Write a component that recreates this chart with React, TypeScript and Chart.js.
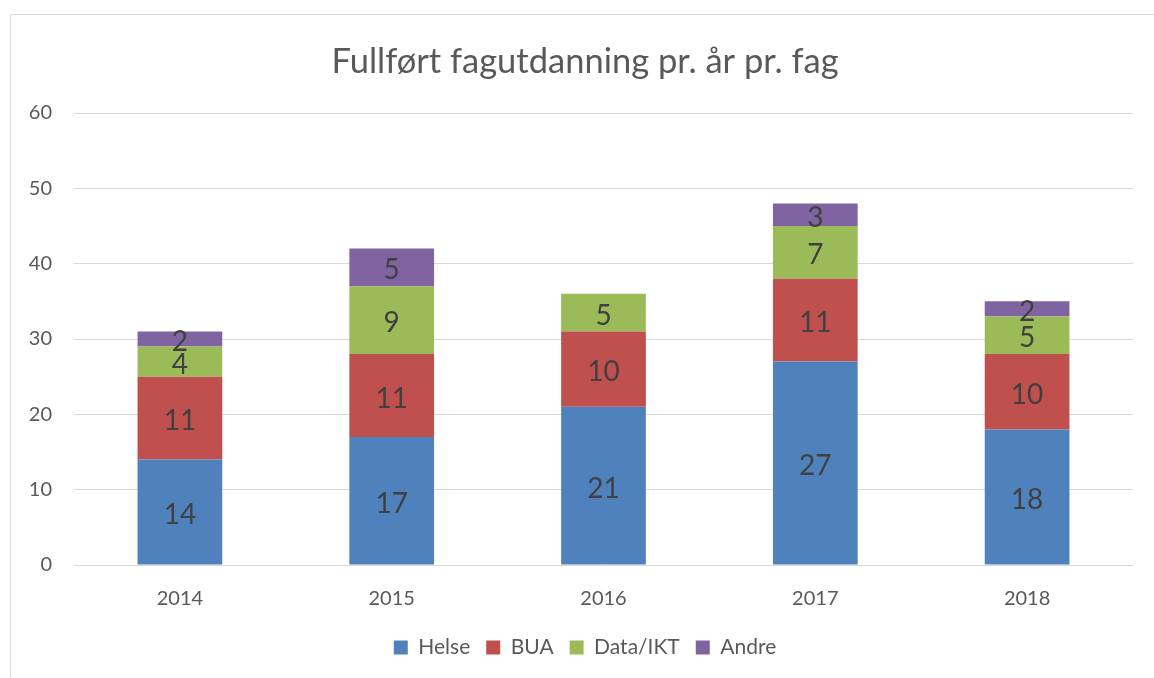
import React, { useEffect, useRef } from "react";
import { Chart, registerables } from "chart.js";

Chart.register(...registerables);

const categories = ["2014", "2015", "2016", "2017", "2018"];
const helse = [14, 17, 21, 27, 18];
const bua = [11, 11, 10, 11, 10];
const dataIkt = [4, 9, 5, 7, 5];
const andre = [2, 5, 0, 3, 2];
const yTicks = [0, 10, 20, 30, 40, 50, 60];

const FONT = "Lato, 'Open Sans', sans-serif";
const TEXT = "#595959";

const framePlugin = {
  id: "frame",
  beforeDraw(chart: any) {
    const ctx = chart.ctx;
    ctx.save();
    ctx.fillStyle = "#ffffff";
    ctx.fillRect(0, 0, chart.width, chart.height);
    ctx.strokeStyle = "#d9d9d9";
    ctx.lineWidth = 1;
    ctx.beginPath();
    ctx.moveTo(10.5, chart.height + 5);
    ctx.lineTo(10.5, 14.5);
    ctx.lineTo(chart.width + 5, 14.5);
    ctx.stroke();
    ctx.restore();
  },
};

const labelPlugin = {
  id: "barLabels",
  afterDatasetsDraw(chart: any) {
    const ctx = chart.ctx;
    ctx.save();
    ctx.font = `28px ${FONT}`;
    ctx.fillStyle = "#404040";
    ctx.textAlign = "center";
    ctx.textBaseline = "middle";
    chart.data.datasets.forEach((ds: any, i: number) => {
      const meta = chart.getDatasetMeta(i);
      meta.data.forEach((bar: any, j: number) => {
        const v = ds.data[j];
        if (!v) return;
        const y = (bar.y + bar.base) / 2;
        ctx.fillText(String(v), bar.x, y + 3);
      });
    });
    ctx.restore();
  },
};

export default function App() {
  const ref = useRef<HTMLCanvasElement | null>(null);
  useEffect(() => {
    document.body.style.margin = "0";
    if (!ref.current) return;
    const chart = new Chart(ref.current, {
      type: "bar",
      data: {
        labels: categories,
        datasets: [
          { label: "Helse", data: helse, backgroundColor: "#4f81bd" },
          { label: "BUA", data: bua, backgroundColor: "#c0504d" },
          { label: "Data/IKT", data: dataIkt, backgroundColor: "#9bbb59" },
          { label: "Andre", data: andre, backgroundColor: "#8064a2" },
        ],
      },
      options: {
        responsive: false,
        animation: false,
        devicePixelRatio: 1,
        layout: { padding: { left: 16, right: 0, top: 0, bottom: 10 } },
        datasets: { bar: { barPercentage: 0.4, categoryPercentage: 1 } },
        plugins: {
          title: {
            display: true,
            text: "Fullført fagutdanning pr. år pr. fag",
            color: TEXT,
            font: { family: FONT, size: 34.5, weight: "normal" },
            padding: { top: 41.3, bottom: 30.3 },
          },
          legend: {
            position: "bottom",
            labels: {
              boxWidth: 14,
              boxHeight: 14,
              color: TEXT,
              font: { family: FONT, size: 21 },
              padding: 16,
            },
          },
          tooltip: { enabled: false },
        },
        scales: {
          x: {
            stacked: true,
            grid: { display: false, drawTicks: false },
            border: { display: false },
            ticks: { color: TEXT, font: { family: FONT, size: 20 }, padding: 22 },
            afterFit: (s: any) => {
              s.height = 56;
            },
          },
          y: {
            stacked: true,
            min: 0,
            max: 60,
            afterBuildTicks: (s: any) => {
              s.ticks = yTicks.map((v) => ({ value: v }));
            },
            afterFit: (s: any) => {
              s.width = 58;
            },
            grid: { color: "#d9d9d9", lineWidth: 1, drawTicks: false },
            border: { display: false },
            ticks: { color: TEXT, font: { family: FONT, size: 20 }, padding: 22 },
          },
          yRight: {
            type: "linear",
            position: "right",
            display: true,
            grid: { display: false, drawTicks: false },
            border: { display: false },
            ticks: { display: false },
            afterFit: (s: any) => {
              s.width = 21;
            },
          },
        },
      },
      plugins: [framePlugin, labelPlugin],
    });
    return () => chart.destroy();
  }, []);
  return (
    <div style={{ width: 1154, height: 678 }}>
      <canvas ref={ref} width={1154} height={678} style={{ display: "block" }} />
    </div>
  );
}
